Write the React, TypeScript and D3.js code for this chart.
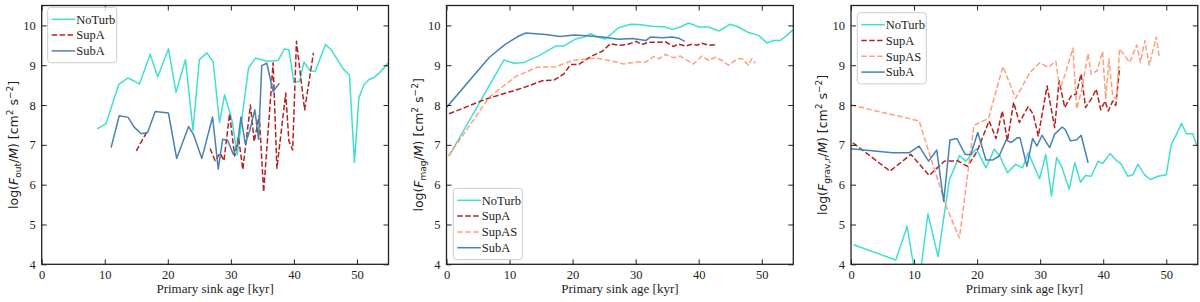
import React, { useEffect, useRef } from "react";
import * as d3 from "d3";

const ageTicks = [0, 10, 20, 30, 40, 50];
const valueTicks = [4, 5, 6, 7, 8, 9, 10];

type Pt = [number, number | null];

// panel 1: log(F_out/M)
const outNoTurb: Pt[] = [
  [8.8, 7.4], [10.2, 7.53], [12.2, 8.51], [13.7, 8.68], [15.5, 8.53], [17.2, 9.27], [18.4, 8.71],
  [20.1, 9.41], [21.3, 8.32], [22.8, 9.14], [24.0, 7.36], [25.0, 9.14], [26.2, 9.31], [27.2, 9.08],
  [28.2, 7.56], [29.0, 8.26], [30.2, 7.6], [31.0, 6.75], [32.8, 8.93], [33.9, 9.18], [35.7, 9.1],
  [37.5, 9.12], [38.5, 9.41], [39.2, 9.39], [40.0, 8.57], [40.9, 8.6], [41.6, 9.08], [42.6, 8.85],
  [43.4, 8.85], [45.0, 9.52], [45.9, 9.39], [47.9, 8.89], [48.8, 8.76], [49.6, 6.56], [50.3, 8.18],
  [51.1, 8.51], [51.9, 8.64], [52.6, 8.68], [53.5, 8.8], [55.0, 9.06], [55.6, 9.06],
];
const outSupA: Pt[] = [
  [15.0, 6.85], [16.8, 7.36], [21, null], [26.7, 6.91], [27.5, 6.6], [28.3, 6.79], [28.9, 6.6],
  [29.8, 7.78], [30.6, 6.72], [31.2, 7.2], [31.9, 6.38], [33.1, 8.0], [33.7, 7.08], [34.5, 7.74],
  [35.2, 5.82], [36.7, 9.06], [37.3, 6.41], [38.7, 8.3], [39.2, 7.1], [39.8, 6.87], [40.4, 9.6],
  [41.7, 7.88], [43.1, 9.31],
];
const outSubA: Pt[] = [
  [11.0, 6.93], [12.3, 7.73], [13.7, 7.69], [14.7, 7.44], [15.8, 7.28], [16.8, 7.31], [18.0, 7.84],
  [20.1, 7.8], [21.4, 6.66], [23.3, 7.46], [24.1, 7.25], [25.4, 6.66], [27.1, 7.7], [28.0, 6.39],
  [28.7, 7.14], [29.5, 7.11], [30.4, 6.76], [31.0, 6.97], [31.6, 7.7], [32.3, 7.02], [33.0, 7.36],
  [33.8, 7.88], [34.4, 7.14], [34.9, 8.99], [35.7, 9.05], [36.7, 8.34], [37.7, 8.55],
];

// panel 2: log(F_mag/M)
const magNoTurb: Pt[] = [
  [0.4, 6.72], [9.1, 9.13], [10.7, 9.05], [12.3, 9.07], [14.7, 9.24], [17.3, 9.48], [18.6, 9.48],
  [20.5, 9.66], [21.8, 9.71], [22.9, 9.79], [23.9, 9.71], [25.2, 9.66], [27.3, 9.94], [29.2, 10.03],
  [30.5, 10.02], [32.6, 9.98], [34.7, 9.96], [35.8, 9.9], [37.1, 9.96], [38.4, 10.06], [40.0, 9.96],
  [41.6, 9.96], [43.2, 9.86], [45.0, 10.03], [46.3, 9.96], [47.9, 9.82], [49.5, 9.75], [50.8, 9.56],
  [51.9, 9.62], [52.9, 9.62], [54.0, 9.75], [54.8, 9.87], [55.5, 9.88],
];
const magSupA: Pt[] = [
  [0.4, 7.78], [6.25, 8.15], [12.1, 8.43], [15.2, 8.61], [17.1, 8.63], [18.6, 8.78], [19.7, 9.02],
  [21.0, 9.02], [22.9, 9.22], [24.7, 9.35], [26.0, 9.54], [27.3, 9.5], [28.7, 9.52], [30.1, 9.6],
  [31.0, 9.52], [32.1, 9.58], [33.7, 9.58], [34.7, 9.59], [36.0, 9.47], [36.8, 9.53], [37.9, 9.48],
  [39.0, 9.53], [39.7, 9.5], [40.5, 9.55], [41.6, 9.5], [42.9, 9.52],
];
const magSupAS: Pt[] = [
  [0.3, 6.72], [6.8, 8.2], [11.0, 8.72], [14.4, 8.95], [17.3, 8.96], [20.0, 9.12], [23.7, 9.18],
  [25.8, 9.12], [28.1, 9.03], [30.0, 9.08], [31.6, 9.08], [32.9, 9.22], [33.7, 9.16], [34.7, 9.27],
  [36.0, 9.19], [37.1, 9.23], [38.2, 9.12], [39.2, 9.03], [40.5, 9.23], [41.6, 9.12], [42.6, 9.2],
  [43.7, 9.12], [44.7, 9.0], [46.1, 9.16], [46.9, 9.16], [47.9, 9.0], [48.4, 9.16], [49.0, 9.05],
];
const magSubA: Pt[] = [
  [0.0, 7.94], [6.8, 9.2], [9.1, 9.5], [11.3, 9.72], [12.6, 9.81], [15.7, 9.77], [18.1, 9.72],
  [20.2, 9.76], [22.1, 9.74], [24.7, 9.71], [27.3, 9.65], [29.5, 9.67], [31.6, 9.62], [32.4, 9.71],
  [34.2, 9.69], [35.8, 9.71], [36.8, 9.68], [37.8, 9.6],
];

// panel 3: log(F_grav,r/M)
const gravNoTurb: Pt[] = [
  [0.4, 4.49], [7.1, 4.11], [8.9, 4.95], [10.0, 3.9], [11.1, 3.9], [12.2, 5.27], [13.8, 4.19],
  [15.6, 6.12], [17.2, 6.73], [18.2, 6.59], [19.9, 6.9], [21.4, 6.42], [22.7, 6.89], [23.6, 6.72],
  [24.8, 6.3], [26.1, 6.51], [27.2, 6.42], [28.1, 6.8], [29.9, 6.15], [30.9, 6.76], [31.8, 5.71],
  [32.6, 6.68], [33.4, 6.46], [34.6, 5.89], [35.5, 6.55], [36.4, 6.06], [37.2, 6.23], [38.1, 6.21],
  [39.2, 6.59], [39.9, 6.53], [41.1, 6.78], [42.2, 6.59], [42.8, 6.53], [43.9, 6.21], [44.7, 6.25],
  [45.5, 6.51], [46.6, 6.24], [47.5, 6.13], [48.7, 6.21], [50.0, 6.25], [50.8, 7.01], [51.6, 7.26],
  [52.4, 7.54], [53.2, 7.28], [54.2, 7.28], [54.8, 7.01], [55.5, 6.9],
];
const gravSupA: Pt[] = [
  [0.3, 7.05], [6.2, 6.34], [9.5, 6.76], [12.4, 6.23], [14.8, 6.59], [16.9, 6.6], [18.5, 6.46],
  [20.0, 6.84], [21.9, 7.6], [23.0, 7.16], [24.0, 7.85], [24.8, 7.1], [25.8, 8.07], [26.7, 7.56],
  [28.1, 7.96], [28.9, 7.77], [29.7, 7.22], [31.1, 8.48], [32.3, 7.43], [33.0, 8.61], [33.9, 7.94],
  [35.0, 8.25], [35.7, 8.27], [36.5, 8.78], [37.2, 7.94], [38.1, 8.15], [38.9, 8.4], [39.6, 7.88],
  [40.3, 8.1], [40.8, 7.85], [41.5, 8.1], [42.0, 7.99], [42.6, 8.95],
];
const gravSupAS: Pt[] = [
  [0.0, 8.0], [10.8, 7.6], [15.1, 5.45], [17.2, 4.66], [19.5, 7.49], [21.8, 7.66], [24.1, 8.97],
  [26.1, 8.17], [28.4, 8.82], [29.9, 9.06], [31.3, 8.95], [32.5, 9.1], [33.1, 8.4], [33.9, 8.74],
  [35.2, 9.43], [35.8, 7.9], [36.5, 8.32], [37.6, 9.29], [38.1, 8.77], [39.0, 8.86], [39.9, 9.34],
  [40.4, 8.15], [40.9, 9.16], [41.5, 8.23], [42.1, 8.15], [42.6, 9.41], [44.2, 9.07], [45.3, 9.51],
  [45.9, 9.07], [46.6, 9.62], [47.3, 9.0], [48.4, 9.71], [48.9, 9.2],
];
const gravSubA: Pt[] = [
  [0.0, 6.9], [6.6, 6.8], [9.2, 6.8], [10.8, 6.97], [12.3, 6.59], [13.6, 6.87], [14.7, 5.58],
  [15.7, 7.12], [16.8, 7.16], [18.1, 6.76], [19.0, 6.76], [20.1, 7.31], [21.4, 6.62], [22.5, 6.62],
  [23.5, 6.72], [24.6, 7.12], [25.4, 7.06], [26.4, 7.18], [26.8, 7.18], [27.9, 6.46], [28.8, 7.16],
  [29.5, 6.97], [30.3, 7.24], [31.5, 6.93], [32.3, 7.27], [33.5, 7.45], [34.0, 7.38], [34.8, 7.1],
  [35.8, 7.13], [36.5, 7.24], [37.6, 6.55],
];

const styles: Record<string, { color: string; dash: string | null }> = {
  NoTurb: { color: "#40e0d0", dash: null },
  SupA: { color: "#b22222", dash: "5.5,2.4" },
  SupAS: { color: "#ffa07a", dash: "5.5,2.4" },
  SubA: { color: "#4682b4", dash: null },
};

const panels = [
  {
    left: 41.7, sub: "out", legendX: 47.7, legendY: 7.3, legendBottom: false,
    series: [["NoTurb", outNoTurb], ["SupA", outSupA], ["SubA", outSubA]] as [string, Pt[]][],
  },
  {
    left: 446.5, sub: "mag", legendX: 453.3, legendY: 188.3, legendBottom: true,
    series: [["NoTurb", magNoTurb], ["SupA", magSupA], ["SupAS", magSupAS], ["SubA", magSubA]] as [string, Pt[]][],
  },
  {
    left: 851, sub: "grav,", legendX: 857.3, legendY: 12.7, legendBottom: false,
    series: [["NoTurb", gravNoTurb], ["SupA", gravSupA], ["SupAS", gravSupAS], ["SubA", gravSubA]] as [string, Pt[]][],
  },
];

const plotW = 346.8;
const top = 5.5;
const bottom = 264.3;

export default function App() {
  const ref = useRef<SVGSVGElement>(null);

  useEffect(() => {
    const svg = d3.select(ref.current);
    svg.selectAll("*").remove();

    panels.forEach((p, i) => {
      const x = d3.scaleLinear().domain([0, 55]).range([p.left, p.left + plotW]);
      const y = d3.scaleLinear().domain([4, 10.5]).range([bottom, top]);
      const g = svg.append("g");

      g.append("clipPath")
        .attr("id", "clip" + i)
        .append("rect")
        .attr("x", p.left)
        .attr("y", top)
        .attr("width", plotW)
        .attr("height", bottom - top);

      const line = d3
        .line<Pt>()
        .defined((d) => d[1] !== null)
        .x((d) => x(d[0]))
        .y((d) => y(d[1] as number));

      p.series.forEach(([name, data]) => {
        g.append("path")
          .datum(data)
          .attr("clip-path", `url(#clip${i})`)
          .attr("d", line)
          .attr("fill", "none")
          .attr("stroke", styles[name].color)
          .attr("stroke-width", 1.5)
          .attr("stroke-dasharray", styles[name].dash)
          .attr("stroke-linejoin", "round");
      });

      const fmt = (a: any) => a.selectAll("text").attr("font-family", "'Liberation Serif', serif").attr("font-size", 12.5).attr("fill", "#222");

      const xb = g.append("g").attr("transform", `translate(0,${bottom})`)
        .call(d3.axisBottom(x).tickValues(ageTicks).tickSize(-5).tickPadding(6).tickFormat(d3.format("d")));
      fmt(xb);
      g.append("g").attr("transform", `translate(0,${top})`)
        .call(d3.axisTop(x).tickValues(ageTicks).tickSize(-5).tickFormat(() => ""));
      const yl = g.append("g").attr("transform", `translate(${p.left},0)`)
        .call(d3.axisLeft(y).tickValues(valueTicks).tickSize(-5).tickPadding(6).tickFormat(d3.format("d")));
      fmt(yl);
      g.append("g").attr("transform", `translate(${p.left + plotW},0)`)
        .call(d3.axisRight(y).tickValues(valueTicks).tickSize(-5).tickFormat(() => ""));
      g.selectAll(".domain").remove();
      g.selectAll(".tick line").attr("stroke", "#222").attr("stroke-width", 1);

      g.append("rect")
        .attr("x", p.left)
        .attr("y", top)
        .attr("width", plotW)
        .attr("height", bottom - top)
        .attr("fill", "none")
        .attr("stroke", "#222")
        .attr("stroke-width", 1.3);

      g.append("text")
        .attr("x", p.left + plotW / 2)
        .attr("y", 293)
        .attr("text-anchor", "middle")
        .attr("font-family", "'Liberation Serif', serif")
        .attr("font-size", 13)
        .attr("fill", "#222")
        .text("Primary sink age [kyr]");

      // y label with mathtext-like pieces
      const cy = (top + bottom) / 2 + 10;
      const t = g.append("text")
        .attr("transform", `translate(${p.left - 24},${cy}) rotate(-90)`)
        .attr("text-anchor", "middle")
        .attr("font-family", "'DejaVu Sans', sans-serif")
        .attr("font-size", 12.5)
        .attr("fill", "#222");
      t.append("tspan").text("log(");
      t.append("tspan").attr("font-style", "italic").text("F");
      t.append("tspan").attr("font-size", 9).attr("dy", 3).text(p.sub);
      if (i === 2) t.append("tspan").attr("font-size", 9).attr("font-style", "italic").text("r");
      t.append("tspan").attr("dy", -3).text("/");
      t.append("tspan").attr("font-style", "italic").text("M");
      t.append("tspan").text(") [cm");
      t.append("tspan").attr("font-size", 9).attr("dy", -5).text("2");
      t.append("tspan").attr("dy", 5).text(" s");
      t.append("tspan").attr("font-size", 9).attr("dy", -5).text("\u22122");
      t.append("tspan").attr("dy", 5).text("]");

      // legend
      const n = p.series.length;
      const lg = g.append("g").attr("transform", `translate(${p.legendX},${p.legendY})`);
      lg.append("rect")
        .attr("width", 69)
        .attr("height", n * 15.8 + 8)
        .attr("rx", 3)
        .attr("fill", "white")
        .attr("fill-opacity", 0.8)
        .attr("stroke", "#ccc");
      p.series.forEach(([name], k) => {
        const ly = 12 + k * 15.8;
        lg.append("line")
          .attr("x1", 4).attr("x2", 27.5).attr("y1", ly).attr("y2", ly)
          .attr("stroke", styles[name].color)
          .attr("stroke-width", 1.5)
          .attr("stroke-dasharray", styles[name].dash);
        lg.append("text")
          .attr("x", 28.5).attr("y", ly + 4.3)
          .attr("font-family", "'Liberation Serif', serif")
          .attr("font-size", 12.5)
          .attr("fill", "#222")
          .text(name);
      });
    });
  }, []);

  return (
    <div style={{ position: "absolute", left: 0, top: 0 }}>
      <svg ref={ref} width={1200} height={302} style={{ display: "block", background: "white" }} />
    </div>
  );
}
